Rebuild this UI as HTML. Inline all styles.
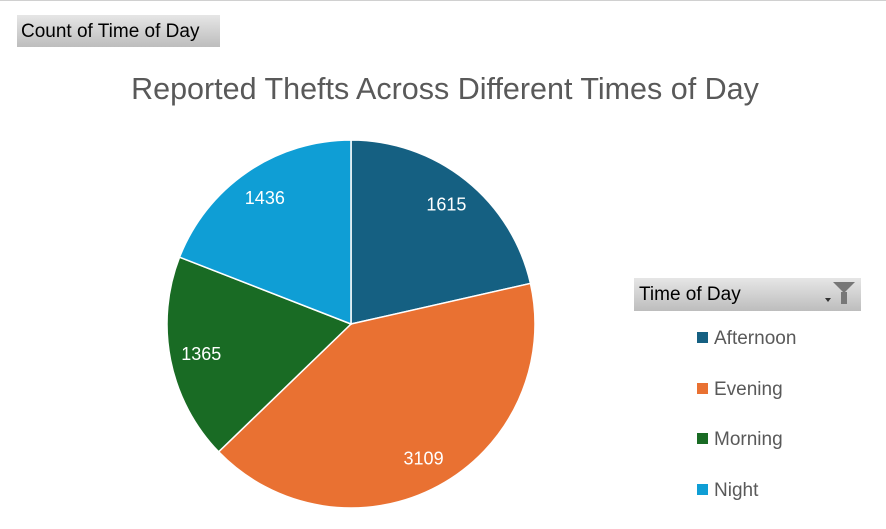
<!DOCTYPE html>
<html><head><meta charset="utf-8"><style>
body{margin:0;width:886px;height:529px;background:#fff;overflow:hidden;font-family:"Liberation Sans",sans-serif;position:relative}
.btn{position:absolute;background:linear-gradient(#e6e6e6,#bdbdbd);color:#000}
</style></head><body>
<div style="position:absolute;left:0;top:0;width:886px;height:1px;background:#d0d0d0"></div>
<div class="btn" style="left:17px;top:15px;width:203px;height:32px;font-size:19px;line-height:34px;padding-left:4px;box-sizing:border-box">Count of Time of Day</div>
<div style="position:absolute;left:0;width:890px;top:72px;text-align:center;font-size:30.5px;color:#595959">Reported Thefts Across Different Times of Day</div>
<svg id="pie" width="886" height="529" style="position:absolute;left:0;top:0"></svg>
<div class="btn" style="left:634px;top:278px;width:227px;height:33px;font-size:19px;line-height:34px;padding-left:5px;box-sizing:border-box">Time of Day
<span style="position:absolute;right:6px;top:4px;width:0;height:0;border-left:11px solid transparent;border-right:11px solid transparent;border-top:11px solid #777"></span>
<span style="position:absolute;right:14px;top:14px;width:6px;height:12px;background:#777"></span>
<span style="position:absolute;right:30px;top:20px;width:0;height:0;border-left:3px solid transparent;border-right:3px solid transparent;border-top:4px solid #333"></span>
</div>
<div id="legend"></div>
<script>
const categories=["Afternoon","Evening","Morning","Night"];
const values=[1615,3109,1365,1436];
const colors=["#156082","#e97132","#196b24","#0f9ed5"];
const cx=351,cy=324,r=184;
const svg=document.getElementById('pie');
const NS="http://www.w3.org/2000/svg";
const total=values.reduce((a,b)=>a+b,0);
let acc=0;
function pt(a,rr){return [cx+rr*Math.sin(a),cy-rr*Math.cos(a)];}
values.forEach((v,i)=>{
  const a0=acc/total*2*Math.PI;acc+=v;const a1=acc/total*2*Math.PI;
  const p0=pt(a0,r),p1=pt(a1,r);
  const path=document.createElementNS(NS,'path');
  path.setAttribute('d',`M${cx},${cy}L${p0[0]},${p0[1]}A${r},${r} 0 ${a1-a0>Math.PI?1:0} 1 ${p1[0]},${p1[1]}Z`);
  path.setAttribute('fill',colors[i]);path.setAttribute('stroke','#fff');path.setAttribute('stroke-width','1.5');
  
  
  svg.appendChild(path);
  const lp=pt((a0+a1)/2,r*0.83);
  const t=document.createElementNS(NS,'text');
  t.setAttribute('x',lp[0]);t.setAttribute('y',lp[1]+6);t.setAttribute('text-anchor','middle');
  t.setAttribute('fill','#fff');t.setAttribute('font-size','18');t.setAttribute('font-family','Liberation Sans, sans-serif');
  t.textContent=v;
  
  
  svg.appendChild(t);
});
const leg=document.getElementById('legend');
categories.forEach((c,i)=>{
  const d=document.createElement('div');
  d.style.cssText=`position:absolute;left:697px;top:${328+i*50.7}px;height:22px;font-size:19px;color:#595959;line-height:22px;white-space:nowrap`;
  d.innerHTML=`<span style="display:inline-block;width:11px;height:11px;background:${colors[i]};margin-right:6px;vertical-align:1px"></span>${c}`;
  
  
  leg.appendChild(d);
});
</script>
</body></html>
